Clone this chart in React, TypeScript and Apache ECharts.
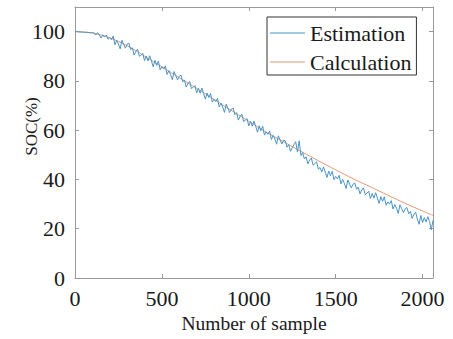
import React, { useEffect, useRef } from "react";
import * as echarts from "echarts";

// sample index step between stored estimation points
const SAMPLE_STEP = 10;

// Calculated SOC (%) at these samples
const calcSamples = [0, 100, 200, 300, 400, 500, 600, 700, 800, 900, 1000, 1100, 1200, 1300, 1400, 1500, 1600, 1700, 1800, 1900, 2000, 2060];
const calcValues = [100, 99.5, 97.5, 94.3, 90.1, 85.7, 81.3, 77, 72.5, 68, 63.6, 59.2, 55.3, 51.4, 47.6, 43.9, 40.3, 37, 33.6, 30.3, 27.2, 25.4];

// Estimated SOC (%) every 10 samples from 0 to 2060
const estValues = [
  100, 100, 99.9, 99.9, 99.8, 99.8, 99.7, 99.7, 99.6, 99.5, 99.5,
  99.5, 98.6, 99.6, 98.6, 97.4, 98.7, 97.8, 98.6, 96.9, 97.6,
  96.7, 98.2, 94.7, 96.5, 95.0, 93.0, 96.5, 94.8, 93.3, 94.9,
  95.3, 92.7, 93.4, 90.5, 92.0, 92.9, 90.0, 90.4, 91.2, 88.2,
  90.1, 88.1, 90.2, 88.0, 85.7, 88.3, 86.3, 88.1, 84.5, 85.8,
  84.8, 86.1, 82.6, 84.2, 82.6, 80.5, 83.8, 82.1, 80.4, 81.9,
  82.3, 79.6, 80.4, 77.5, 79.0, 79.8, 76.9, 77.4, 78.1, 75.1,
  77.0, 75.0, 77.1, 74.9, 72.6, 75.1, 73.2, 74.9, 71.4, 72.6,
  71.6, 72.9, 69.4, 71.0, 69.4, 67.2, 70.6, 68.8, 67.2, 68.6,
  69.0, 66.3, 67.1, 64.1, 65.6, 66.5, 63.5, 64.0, 64.7, 61.7,
  63.6, 61.6, 63.7, 61.5, 59.2, 61.8, 59.8, 61.6, 58.0, 59.3,
  58.3, 59.7, 56.2, 57.9, 56.4, 54.3, 57.7, 56.0, 54.4, 55.9,
  55.7, 53.1, 54.1, 51.4, 52.9, 54.1, 55.3, 51.1, 55.7, 49.7,
  50.9, 48.3, 49.2, 46.3, 47.8, 48.7, 45.8, 46.4, 47.2, 44.2,
  44.8, 43.0, 45.1, 43.0, 40.8, 43.4, 41.5, 43.3, 39.9, 41.2,
  40.2, 41.7, 38.2, 40.0, 38.4, 36.3, 39.8, 38.1, 36.6, 38.1,
  38.6, 36.0, 36.9, 34.1, 35.7, 36.6, 33.8, 34.4, 35.2, 32.3,
  34.3, 32.4, 34.6, 32.5, 30.3, 33.0, 31.1, 33.0, 29.5, 30.9,
  30.0, 31.4, 28.0, 29.8, 28.3, 26.2, 29.7, 28.1, 26.5, 28.1,
  28.6, 26.1, 27.0, 24.2, 25.8, 26.7, 23.9, 21.8, 25.4, 22.5,
  24.5, 22.7, 24.9, 22.9, 19.6, 23.4,
];

const xTicks = [0, 500, 1000, 1500, 2000];
const yTicks = [0, 20, 40, 60, 80, 100];

const FONT = "Liberation Serif";
const BLUE = "#4a94c9";
const ORANGE = "#e29a76";

export default function App() {
  const ref = useRef<HTMLDivElement>(null);
  useEffect(() => {
    if (!ref.current) return;
    const chart = echarts.init(ref.current, undefined, { renderer: "svg" });
    const estData = estValues.map((v, i) => [i * SAMPLE_STEP, v]);
    const calcData = calcSamples.map((s, i) => [s, calcValues[i]]);
    const axisLineStyle = { color: "#9a9a9a", width: 1 };
    const tickStyle = { show: true, inside: true, length: 4, lineStyle: { color: "#9a9a9a" } };
    chart.setOption({
      animation: false,
      grid: { left: 75, right: 20, top: 7, bottom: 61, containLabel: false },
      legend: {
        orient: "vertical",
        left: 267,
        top: 17,
        padding: [5, 5, 2, 3],
        itemGap: 7,
        itemWidth: 35,
        itemHeight: 1,
        icon: "rect",
        borderColor: "#333",
        borderWidth: 1,
        backgroundColor: "#fff",
        textStyle: { fontFamily: FONT, fontSize: 22, color: "#1a1a1a" },
        data: [
          { name: "Estimation", icon: "rect", itemStyle: { color: BLUE } },
          { name: "Calculation", icon: "rect", itemStyle: { color: ORANGE } },
        ],
      },
      xAxis: [
        {
          type: "value",
          min: 0,
          max: 2060,
          interval: 500,
          name: "Number of sample",
          nameLocation: "middle",
          nameGap: 35,
          nameTextStyle: { fontFamily: FONT, fontSize: 19.5, color: "#1a1a1a" },
          axisLine: { show: true, onZero: false, lineStyle: axisLineStyle },
          axisTick: tickStyle,
          splitLine: { show: false },
          axisLabel: {
            fontFamily: FONT,
            fontSize: 22,
            color: "#1a1a1a",
            margin: 9,
            formatter: (v: number) => (xTicks.includes(v) ? String(v) : ""),
          },
        },
        {
          type: "value",
          position: "top",
          min: 0,
          max: 2060,
          interval: 500,
          axisLine: { show: true, onZero: false, lineStyle: axisLineStyle },
          axisTick: tickStyle,
          axisLabel: { show: false },
          splitLine: { show: false },
        },
      ],
      yAxis: [
        {
          type: "value",
          min: 0,
          max: 110,
          interval: 20,
          axisLine: { show: true, onZero: false, lineStyle: axisLineStyle },
          axisTick: tickStyle,
          splitLine: { show: false },
          axisLabel: {
            fontFamily: FONT,
            fontSize: 22,
            color: "#1a1a1a",
            margin: 10,
            formatter: (v: number) => (yTicks.includes(v) ? String(v) : ""),
          },
        },
        {
          type: "value",
          position: "right",
          min: 0,
          max: 110,
          interval: 20,
          axisLine: { show: true, onZero: false, lineStyle: axisLineStyle },
          axisTick: tickStyle,
          axisLabel: { show: false },
          splitLine: { show: false },
        },
      ],
      graphic: [
        {
          type: "text",
          x: 31,
          y: 126.5,
          rotation: Math.PI / 2,
          style: {
            text: "SOC(%)",
            fontFamily: FONT,
            fontSize: 17,
            fill: "#1a1a1a",
            align: "center",
            verticalAlign: "middle",
          },
        },
      ],
      series: [
        {
          name: "Estimation",
          type: "line",
          data: estData,
          symbol: "none",
          lineStyle: { color: BLUE, width: 1 },
          itemStyle: { color: BLUE },
          z: 3,
        },
        {
          name: "Calculation",
          type: "line",
          data: calcData,
          symbol: "none",
          smooth: 0.3,
          lineStyle: { color: ORANGE, width: 1 },
          itemStyle: { color: ORANGE },
          z: 2,
        },
      ],
    });
    return () => chart.dispose();
  }, []);
  return <div ref={ref} style={{ width: 453, height: 339, position: "absolute", left: 0, top: 0 }} />;
}
